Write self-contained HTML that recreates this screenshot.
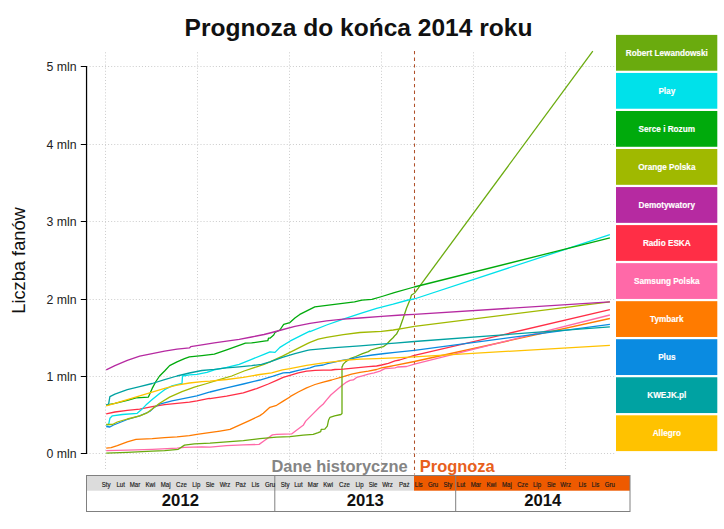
<!DOCTYPE html>
<html><head><meta charset="utf-8"><title>Prognoza do końca 2014 roku</title>
<style>
html,body{margin:0;padding:0;background:#fff;}
body{width:724px;height:529px;overflow:hidden;position:relative;font-family:"Liberation Sans",sans-serif;}
svg{position:absolute;left:0;top:0;}
text{font-family:"Liberation Sans",sans-serif;}
</style></head><body>
<svg width="724" height="529" viewBox="0 0 724 529">
<rect width="724" height="529" fill="#fff"/>

<g stroke="#cccccc" stroke-width="1" stroke-dasharray="1 2.08" fill="none">
<line x1="86.52" y1="453.5" x2="616" y2="453.5"/>
<line x1="86.52" y1="376.5" x2="616" y2="376.5"/>
<line x1="86.52" y1="299.5" x2="616" y2="299.5"/>
<line x1="86.52" y1="221.5" x2="616" y2="221.5"/>
<line x1="86.52" y1="144.5" x2="616" y2="144.5"/>
<line x1="86.52" y1="66.5" x2="616" y2="66.5"/>
<line x1="105.5" y1="52.3" x2="105.5" y2="471"/>
<line x1="197.5" y1="52.3" x2="197.5" y2="471"/>
<line x1="289.5" y1="52.3" x2="289.5" y2="471"/>
<line x1="381.5" y1="52.3" x2="381.5" y2="471"/>
<line x1="473.5" y1="52.3" x2="473.5" y2="471"/>
<line x1="565.5" y1="52.3" x2="565.5" y2="471"/>
</g>
<line x1="414.5" y1="51" x2="414.5" y2="474.5" stroke="#b0502a" stroke-width="1.05" stroke-dasharray="3.3 3.3"/>
<g fill="none" stroke-width="1.3" stroke-linejoin="round" stroke-linecap="butt">
<polyline stroke="#ff7b00" points="106.2,448.1 111.1,447.6 117.3,445.6 127.3,441.9 136.0,439.4 152.2,438.6 164.6,437.7 177.0,436.9 189.4,435.7 196.9,434.4 209.2,432.7 220.0,431.1 230.0,429.4 238.3,425.6 248.3,421.1 259.9,415.6 263.3,413.3 269.9,407.3 276.6,405.3 283.2,401.1 289.9,397.0 290.0,396.6 298.3,392.0 306.6,387.9 310.0,386.5 315.0,384.5 323.3,382.1 331.6,380.0 335.0,379.0 343.3,376.6 351.6,374.1 360.0,372.4 368.3,371.2 376.6,369.5 381.6,367.9 386.6,367.0 395.0,365.4 414.4,361.5"/>
<polyline stroke="#00aa0c" points="106.2,405.1 114.9,403.3 127.3,400.4 136.0,397.9 148.4,397.1 152.2,388.4 155.9,381.5 159.6,376.0 164.6,371.0 169.6,365.6 177.0,361.8 184.5,358.6 189.4,356.9 201.9,355.6 214.3,354.1 226.7,349.9 239.2,345.4 245.4,343.2 251.6,342.9 264.0,341.2 267.8,340.7 268.5,338.2 270.0,338.2 273.7,335.0 275.0,332.5 279.9,330.0 283.7,324.3 289.9,322.6 294.9,318.1 299.8,314.4 307.3,310.6 314.8,306.9 324.7,305.7 334.6,304.4 344.6,303.2 354.5,301.9 362.0,300.2 371.9,299.4 381.9,296.5 394.3,292.7 414.2,287.0"/>
<polyline stroke="#ff69a8" points="106.2,450.6 127.3,450.1 152.2,449.3 177.0,448.1 184.5,447.3 201.9,446.9 210.0,447.2 226.6,445.6 243.3,444.9 259.1,444.4 264.9,440.2 272.4,434.9 276.6,434.4 291.6,433.9 296.5,430.3 303.2,425.3 305.7,421.1 313.2,413.6 319.8,407.0 323.3,404.0 326.6,399.9 330.8,395.0 336.6,390.0 341.6,385.8 346.6,382.1 350.0,380.4 353.3,379.9 356.6,377.4 362.5,375.8 368.3,374.1 374.1,372.9 379.9,371.2 384.9,368.7 389.1,368.3 395.0,367.9 397.5,367.0 406.6,366.5 414.4,364.1"/>
<polyline stroke="#6aab0e" points="106.2,453.1 127.3,452.3 152.2,451.1 164.6,450.6 178.3,449.3 184.5,445.1 194.4,443.9 210.0,443.2 226.6,441.9 243.3,440.6 259.9,438.6 276.6,437.2 289.9,436.6 303.2,435.2 313.2,434.4 318.2,432.7 320.7,431.6 321.2,429.4 324.8,429.1 327.3,426.1 328.5,420.3 330.0,417.3 334.6,415.8 340.9,414.5 342.0,413.5 342.0,366.6 342.3,366.6 343.3,364.1 345.8,361.6 350.0,358.7 355.8,356.5 362.5,353.7 368.3,351.6 370.8,350.0 376.6,348.3 383.3,346.7 386.6,344.2 389.9,340.8 393.3,337.5 395.0,335.4 396.5,334.1 399.9,327.5 403.2,318.3 406.5,308.3 409.9,300.0 411.5,295.0 414.4,293.3"/>
<polyline stroke="#ff2e46" points="106.2,413.8 114.9,412.0 127.3,410.3 139.7,409.1 152.2,406.6 164.6,404.6 177.0,403.3 189.4,402.1 196.9,400.9 209.3,398.4 210.0,398.6 226.6,396.1 243.3,392.8 256.6,388.6 268.3,384.0 276.6,380.3 283.2,377.3 289.9,375.3 290.0,375.4 298.3,372.9 306.6,371.2 310.0,370.8 315.0,370.4 323.3,370.2 331.6,370.0 335.0,369.5 343.3,369.1 355.8,367.9 368.3,366.6 376.6,366.0 381.6,365.0 388.3,363.3 395.0,360.8 399.6,360.0 414.4,355.4"/>
<polyline stroke="#0a8be1" points="106.2,426.5 109.9,427.0 113.6,425.0 127.3,419.5 139.7,415.8 149.7,411.5 154.6,407.1 159.6,404.1 172.0,400.9 184.5,398.4 196.9,395.9 209.3,392.2 210.0,392.0 226.6,387.8 243.3,384.0 259.9,380.0 273.2,376.2 283.2,372.8 290.0,372.5 298.3,370.4 306.6,368.7 310.0,367.9 315.0,366.2 323.3,365.0 327.4,363.7 343.3,360.2 350.0,359.1 360.0,356.8 372.4,355.0 384.9,353.5 395.0,352.3 414.4,350.4"/>
<polyline stroke="#00e1ea" points="106.2,425.0 108.6,424.5 109.9,418.3 112.4,415.8 122.3,414.5 137.2,413.3 141.0,410.1 145.9,405.1 152.2,399.6 159.6,393.4 164.6,389.7 172.0,385.9 182.0,383.5 182.5,376.0 189.4,374.8 196.9,374.3 206.9,372.3 214.3,369.8 226.7,367.3 239.2,364.3 251.6,359.3 264.0,354.4 270.0,351.9 275.0,352.4 279.9,347.4 289.9,341.2 299.8,336.2 309.8,331.2 310.0,331.6 326.6,325.0 343.3,319.1 359.9,313.6 376.6,308.3 393.2,304.2 408.2,300.0 414.2,299.0"/>
<polyline stroke="#a0b900" points="106.2,424.5 112.4,424.5 117.3,422.0 127.3,419.0 139.7,415.8 147.2,412.8 152.2,409.1 159.6,403.3 169.6,397.1 182.0,391.7 194.4,387.2 206.9,383.5 219.3,379.7 231.7,376.0 244.1,371.0 256.6,366.8 264.0,364.3 270.0,361.8 282.4,356.1 294.9,349.9 307.3,343.7 310.0,342.3 318.3,339.1 326.6,337.4 343.3,334.6 359.9,332.5 381.6,331.3 393.2,330.0 403.2,328.3 414.4,326.3"/>
<polyline stroke="#00a2a2" points="106.2,405.1 108.6,404.1 109.9,396.6 114.9,394.1 127.3,389.7 139.7,386.7 152.2,383.5 164.6,379.7 177.0,376.0 189.4,373.0 201.9,370.5 214.3,369.3 226.7,367.8 239.2,366.8 251.6,365.6 261.5,364.3 270.0,361.8 282.4,357.3 294.9,353.6 307.3,350.4 310.0,349.9 326.6,348.3 335.0,347.6 360.0,345.8 381.4,344.2 395.0,343.2 414.4,341.5"/>
<polyline stroke="#b62aa1" points="106.2,369.8 114.9,365.6 127.3,360.3 139.7,356.1 152.2,353.6 164.6,351.1 177.0,349.1 189.4,347.9 190.7,346.7 201.9,344.9 214.3,342.9 226.7,341.2 239.2,339.4 251.6,337.0 264.0,334.5 270.0,333.0 281.2,330.0 294.9,326.3 310.0,323.3 326.6,320.8 343.3,319.1 359.9,318.0 381.6,316.3 401.5,315.0 414.4,314.3"/>
<polyline stroke="#ffc200" points="106.2,405.8 114.9,403.3 127.3,399.6 139.7,395.9 152.2,392.2 164.6,388.4 177.0,385.2 189.4,383.0 201.9,381.7 210.0,381.2 226.6,379.5 243.3,377.3 259.9,374.5 271.6,372.8 282.4,369.8 290.0,368.7 306.6,365.4 323.3,362.9 335.0,361.6 347.5,360.0 360.0,359.1 376.6,358.6 395.0,357.9 414.4,356.8"/>
<polyline stroke="#ff7b00" points="414.4,361.5 609.9,318.5"/>
<polyline stroke="#ff69a8" points="414.4,364.1 609.9,315.0"/>
<polyline stroke="#6aab0e" points="414.4,293.3 592.8,51.2"/>
<polyline stroke="#ff2e46" points="414.4,355.4 609.9,309.7"/>
<polyline stroke="#0a8be1" points="414.4,350.4 609.9,324.3"/>
<polyline stroke="#00e1ea" points="414.2,299.0 609.9,234.7"/>
<polyline stroke="#00aa0c" points="414.2,287.0 609.9,237.9"/>
<polyline stroke="#a0b900" points="414.4,326.3 609.9,301.9"/>
<polyline stroke="#00a2a2" points="414.4,341.5 609.9,326.8"/>
<polyline stroke="#b62aa1" points="414.4,314.3 609.9,301.9"/>
<polyline stroke="#ffc200" points="414.4,356.8 609.9,345.3"/>
</g>
<g stroke="#000" fill="none"><line x1="86.55" y1="66" x2="86.55" y2="454" stroke-width="1.25"/>
<line x1="80.8" y1="453.5" x2="86.5" y2="453.5" stroke-width="1"/>
<line x1="80.8" y1="376.5" x2="86.5" y2="376.5" stroke-width="1"/>
<line x1="80.8" y1="299.5" x2="86.5" y2="299.5" stroke-width="1"/>
<line x1="80.8" y1="221.5" x2="86.5" y2="221.5" stroke-width="1"/>
<line x1="80.8" y1="144.5" x2="86.5" y2="144.5" stroke-width="1"/>
<line x1="80.8" y1="66.5" x2="86.5" y2="66.5" stroke-width="1"/>
</g>
<g font-size="12.3" fill="#222" text-anchor="end">
<text x="76.5" y="458.1">0 mln</text>
<text x="76.5" y="381.1">1 mln</text>
<text x="76.5" y="304.1">2 mln</text>
<text x="76.5" y="226.1">3 mln</text>
<text x="76.5" y="149.1">4 mln</text>
<text x="76.5" y="71.1">5 mln</text>
</g>
<text transform="translate(25.3,260.5) rotate(-90)" font-size="18.25" fill="#111" text-anchor="middle">Liczba fanów</text>
<text x="358.5" y="35.9" font-size="24.55" font-weight="bold" fill="#111" text-anchor="middle">Prognoza do końca 2014 roku</text>
<rect x="86.5" y="475.3" width="327.5" height="15.4" fill="#dcdcdc"/>
<rect x="414" y="475.3" width="216" height="15.4" fill="#ee5a00"/>
<g stroke="#808080" stroke-width="1" fill="none"><rect x="86.5" y="475.5" width="543.5" height="36"/><line x1="274.8" y1="475.5" x2="274.8" y2="511.5"/><line x1="455.7" y1="475.5" x2="455.7" y2="511.5"/></g>
<g font-size="7.6" fill="#1a1a1a" stroke="#1a1a1a" stroke-width="0.18" text-anchor="middle">
<text transform="translate(106.2,486.7) scale(0.8,1)">Sty</text>
<text transform="translate(120.6,486.7) scale(0.8,1)">Lut</text>
<text transform="translate(135.0,486.7) scale(0.8,1)">Mar</text>
<text transform="translate(150.4,486.7) scale(0.8,1)">Kwi</text>
<text transform="translate(165.6,486.7) scale(0.8,1)">Maj</text>
<text transform="translate(181.4,486.7) scale(0.8,1)">Cze</text>
<text transform="translate(196.3,486.7) scale(0.8,1)">Lip</text>
<text transform="translate(210.1,486.7) scale(0.8,1)">Sie</text>
<text transform="translate(225.0,486.7) scale(0.8,1)">Wrz</text>
<text transform="translate(240.8,486.7) scale(0.8,1)">Paź</text>
<text transform="translate(255.4,486.7) scale(0.8,1)">Lis</text>
<text transform="translate(270.0,486.7) scale(0.8,1)">Gru</text>
<text transform="translate(285.1,486.7) scale(0.8,1)">Sty</text>
<text transform="translate(298.4,486.7) scale(0.8,1)">Lut</text>
<text transform="translate(313.1,486.7) scale(0.8,1)">Mar</text>
<text transform="translate(328.2,486.7) scale(0.8,1)">Kwi</text>
<text transform="translate(344.4,486.7) scale(0.8,1)">Cze</text>
<text transform="translate(359.5,486.7) scale(0.8,1)">Lip</text>
<text transform="translate(373.1,486.7) scale(0.8,1)">Sie</text>
<text transform="translate(387.5,486.7) scale(0.8,1)">Wrz</text>
<text transform="translate(404.3,486.7) scale(0.8,1)">Paź</text>
<text transform="translate(418.7,486.7) scale(0.8,1)">Lis</text>
<text transform="translate(433.1,486.7) scale(0.8,1)">Gru</text>
<text transform="translate(447.8,486.7) scale(0.8,1)">Sty</text>
<text transform="translate(461.0,486.7) scale(0.8,1)">Lut</text>
<text transform="translate(475.9,486.7) scale(0.8,1)">Mar</text>
<text transform="translate(491.4,486.7) scale(0.8,1)">Kwi</text>
<text transform="translate(506.9,486.7) scale(0.8,1)">Maj</text>
<text transform="translate(522.6,486.7) scale(0.8,1)">Cze</text>
<text transform="translate(537.0,486.7) scale(0.8,1)">Lip</text>
<text transform="translate(551.3,486.7) scale(0.8,1)">Sie</text>
<text transform="translate(565.7,486.7) scale(0.8,1)">Wrz</text>
<text transform="translate(582.3,486.7) scale(0.8,1)">Lis</text>
<text transform="translate(595.5,486.7) scale(0.8,1)">Lis</text>
<text transform="translate(609.9,486.7) scale(0.8,1)">Gru</text>
</g>
<g font-size="16.7" font-weight="bold" fill="#111" text-anchor="middle"><text x="180.4" y="506.4">2012</text><text x="365.2" y="506.4">2013</text><text x="542.8" y="506.4">2014</text></g>
<text x="271.5" y="471.7" font-size="16.45" font-weight="bold" fill="#858585">Dane historyczne</text>
<text x="419.8" y="471.7" font-size="16.45" font-weight="bold" fill="#e8601c">Prognoza</text>
<rect x="616" y="34.90" width="101.3" height="35.8" fill="#6aab0e"/>
<text x="666.8" y="55.5" font-size="8.2" font-weight="bold" fill="#fff" stroke="#fff" stroke-width="0.15" text-anchor="middle">Robert Lewandowski</text>
<rect x="616" y="72.94" width="101.3" height="35.8" fill="#00e1ea"/>
<text x="666.8" y="93.5" font-size="8.2" font-weight="bold" fill="#fff" stroke="#fff" stroke-width="0.15" text-anchor="middle">Play</text>
<rect x="616" y="110.98" width="101.3" height="35.8" fill="#00aa0c"/>
<text x="666.8" y="131.6" font-size="8.2" font-weight="bold" fill="#fff" stroke="#fff" stroke-width="0.15" text-anchor="middle">Serce i Rozum</text>
<rect x="616" y="149.02" width="101.3" height="35.8" fill="#a0b900"/>
<text x="666.8" y="169.6" font-size="8.2" font-weight="bold" fill="#fff" stroke="#fff" stroke-width="0.15" text-anchor="middle">Orange Polska</text>
<rect x="616" y="187.06" width="101.3" height="35.8" fill="#b62aa1"/>
<text x="666.8" y="207.7" font-size="8.2" font-weight="bold" fill="#fff" stroke="#fff" stroke-width="0.15" text-anchor="middle">Demotywatory</text>
<rect x="616" y="225.10" width="101.3" height="35.8" fill="#ff2e46"/>
<text x="666.8" y="245.7" font-size="8.2" font-weight="bold" fill="#fff" stroke="#fff" stroke-width="0.15" text-anchor="middle">Radio ESKA</text>
<rect x="616" y="263.14" width="101.3" height="35.8" fill="#ff69a8"/>
<text x="666.8" y="283.7" font-size="8.2" font-weight="bold" fill="#fff" stroke="#fff" stroke-width="0.15" text-anchor="middle">Samsung Polska</text>
<rect x="616" y="301.18" width="101.3" height="35.8" fill="#ff7b00"/>
<text x="666.8" y="321.8" font-size="8.2" font-weight="bold" fill="#fff" stroke="#fff" stroke-width="0.15" text-anchor="middle">Tymbark</text>
<rect x="616" y="339.22" width="101.3" height="35.8" fill="#0a8be1"/>
<text x="666.8" y="359.8" font-size="8.2" font-weight="bold" fill="#fff" stroke="#fff" stroke-width="0.15" text-anchor="middle">Plus</text>
<rect x="616" y="377.26" width="101.3" height="35.8" fill="#00a2a2"/>
<text x="666.8" y="397.9" font-size="8.2" font-weight="bold" fill="#fff" stroke="#fff" stroke-width="0.15" text-anchor="middle">KWEJK.pl</text>
<rect x="616" y="415.30" width="101.3" height="35.8" fill="#ffc200"/>
<text x="666.8" y="435.9" font-size="8.2" font-weight="bold" fill="#fff" stroke="#fff" stroke-width="0.15" text-anchor="middle">Allegro</text>
</svg>
</body></html>
